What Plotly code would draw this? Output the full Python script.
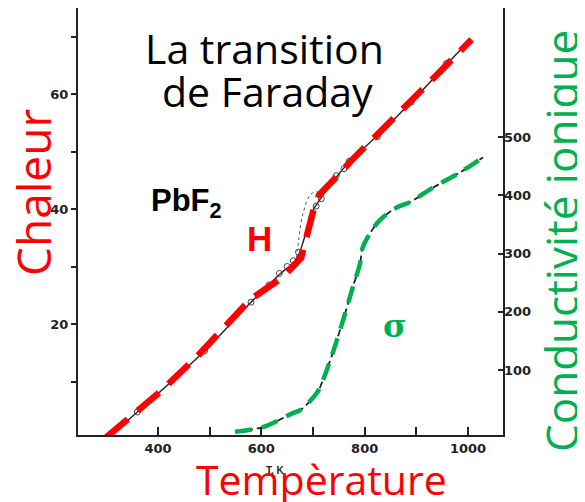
import plotly.graph_objects as go

# ---- data ----
# Heat content H (left axis) - red dashed guide line
H_fit_T = [300, 404, 475, 578, 642, 677, 700, 712, 748, 775, 945, 1007]
H_fit = [0.3, 8.2, 14.3, 24.2, 28.2, 31.5, 39.5, 42.5, 45.8, 48.5, 63.8, 69.5]

# measured heat curve (black line)
H_obs_T = [300, 360, 490, 580, 640, 660, 672, 680, 690, 700, 710, 720, 745, 770, 830, 890, 960, 1005]
H_obs = [0, 4.7, 15.3, 23.8, 29, 30.5, 32, 34, 37, 39.8, 41.2, 42.5, 45.5, 48.2, 53.2, 58.6, 65.3, 69.5]

# measured points (open circles)
H_pts_T = [360, 490, 580, 615, 635, 650, 662, 672, 706, 716, 745, 760, 770, 825, 890, 958]
H_pts = [4.7, 15.3, 23.8, 26.8, 28.8, 30, 31, 32.5, 40.5, 41.8, 45.8, 47, 48.3, 52.6, 58.6, 65.3]

# dotted hysteresis loop near the transition
H_loop_T = [668, 672, 680, 695, 708, 716]
H_loop = [31.5, 34.5, 39, 42.5, 43, 42]

# ionic conductivity sigma (right axis)
S_T = [549, 603, 661, 675, 707, 719, 738, 758, 777, 791, 796, 810, 829, 862, 887, 932, 984, 1029]
S = [-6, 2, 26, 31, 60, 82, 129, 185, 242, 283, 310, 334, 357, 379, 388, 413, 439, 465]

x_ticks = [400, 500, 600, 700, 800, 900, 1000]
x_tick_text = ["400", "", "600", "", "800", "", "1000"]
y_ticks = [10, 20, 30, 40, 50, 60, 70]
y_tick_text = ["", "20", "", "40", "", "60", ""]
y2_ticks = [100, 200, 300, 400, 500]

RED = "#FF0000"
GREEN = "#00B050"
INK = "#222222"

fig = go.Figure()

fig.add_trace(go.Scatter(x=H_obs_T, y=H_obs, mode="lines",
                         line=dict(color=INK, width=1.4, shape="spline"),
                         hoverinfo="skip", showlegend=False))
fig.add_trace(go.Scatter(x=H_loop_T, y=H_loop, mode="lines",
                         line=dict(color="#555555", width=1, dash="dot", shape="spline"),
                         hoverinfo="skip", showlegend=False))
fig.add_trace(go.Scatter(x=H_pts_T, y=H_pts, mode="markers",
                         marker=dict(symbol="circle-open", size=6, color="#444444",
                                     line=dict(width=1)),
                         showlegend=False))
fig.add_trace(go.Scatter(x=H_fit_T, y=H_fit, mode="lines",
                         line=dict(color=RED, width=6.5, dash="28px,13px"),
                         showlegend=False))

fig.add_trace(go.Scatter(x=S_T, y=S, mode="lines", yaxis="y2",
                         line=dict(color=INK, width=1.8, dash="7px,4px", shape="spline"),
                         hoverinfo="skip", showlegend=False))
fig.add_trace(go.Scatter(x=S_T, y=S, mode="lines", yaxis="y2",
                         line=dict(color=GREEN, width=4.5, dash="17px,10px", shape="spline"),
                         showlegend=False))

tickfont = dict(family="DejaVu Sans", size=13, color=INK, weight="bold")

# the page body adds an 8px offset, so the figure is 8px smaller than the window
fig.update_layout(
    width=577, height=494,
    margin=dict(l=70, r=82, t=0, b=67, autoexpand=False),
    paper_bgcolor="white", plot_bgcolor="white",
    xaxis=dict(range=[245.2, 1067.7], tickvals=x_ticks, ticktext=x_tick_text,
               ticks="inside", ticklen=8, tickwidth=1.5, tickcolor=INK,
               showline=True, linewidth=2, linecolor=INK, mirror=True,
               showgrid=False, zeroline=False, tickfont=tickfont),
    yaxis=dict(range=[0.7, 74.96], tickvals=y_ticks, ticktext=y_tick_text,
               ticks="outside", ticklen=5, tickwidth=1.5, tickcolor=INK,
               showline=True, linewidth=2, linecolor=INK, mirror=True,
               showgrid=False, zeroline=False, tickfont=tickfont),
    yaxis2=dict(range=[-11.6, 721.5], tickvals=y2_ticks, overlaying="y", side="right",
                ticks="inside", ticklen=5, tickwidth=1.5, tickcolor=INK,
                showline=False, showgrid=False, zeroline=False, tickfont=tickfont),
)

# page-pixel -> paper coordinates (plot area spans x 78..503, y 8..435 on the page)
def px(x):
    return (x - 78) / 425.0

def py(y):
    return (435 - y) / 427.0

OS = "Open Sans"
ann = [
    dict(text="La transition", x=px(264), y=py(48), xanchor="center", yanchor="middle",
         font=dict(family=OS, size=41, color="black")),
    dict(text="de Faraday", x=px(267), y=py(91), xanchor="center", yanchor="middle",
         font=dict(family=OS, size=41, color="black")),
    dict(text="PbF<sub>2</sub>", x=px(149), y=py(203), xanchor="left", yanchor="middle",
         font=dict(family="Liberation Sans", size=31, color="black", weight="bold")),
    dict(text="H", x=px(259), y=py(239), xanchor="center", yanchor="middle",
         font=dict(family="Liberation Sans", size=35, color=RED, weight="bold")),
    dict(text="σ", x=px(395), y=py(326), xanchor="center", yanchor="middle",
         font=dict(family="DejaVu Serif", size=32, color=GREEN, weight="bold")),
    dict(text="Chaleur", x=px(33), y=py(193), xanchor="center", yanchor="middle", textangle=-90,
         font=dict(family=OS, size=46, color=RED)),
    dict(text="Conductivité ionique", x=px(561), y=py(241), xanchor="center", yanchor="middle", textangle=-90,
         font=dict(family=OS, size=44, color=GREEN)),
    dict(text="T, K", x=px(275), y=py(470), xanchor="center", yanchor="middle",
         font=dict(family="Liberation Sans", size=10, color=INK, weight="bold")),
    dict(text="Tempèrature", x=px(321), y=py(479), xanchor="center", yanchor="middle",
         font=dict(family=OS, size=41, color=RED)),
]
for a in ann:
    a.update(xref="paper", yref="paper", showarrow=False)
fig.update_layout(annotations=ann)

fig.write_html("out.html")
